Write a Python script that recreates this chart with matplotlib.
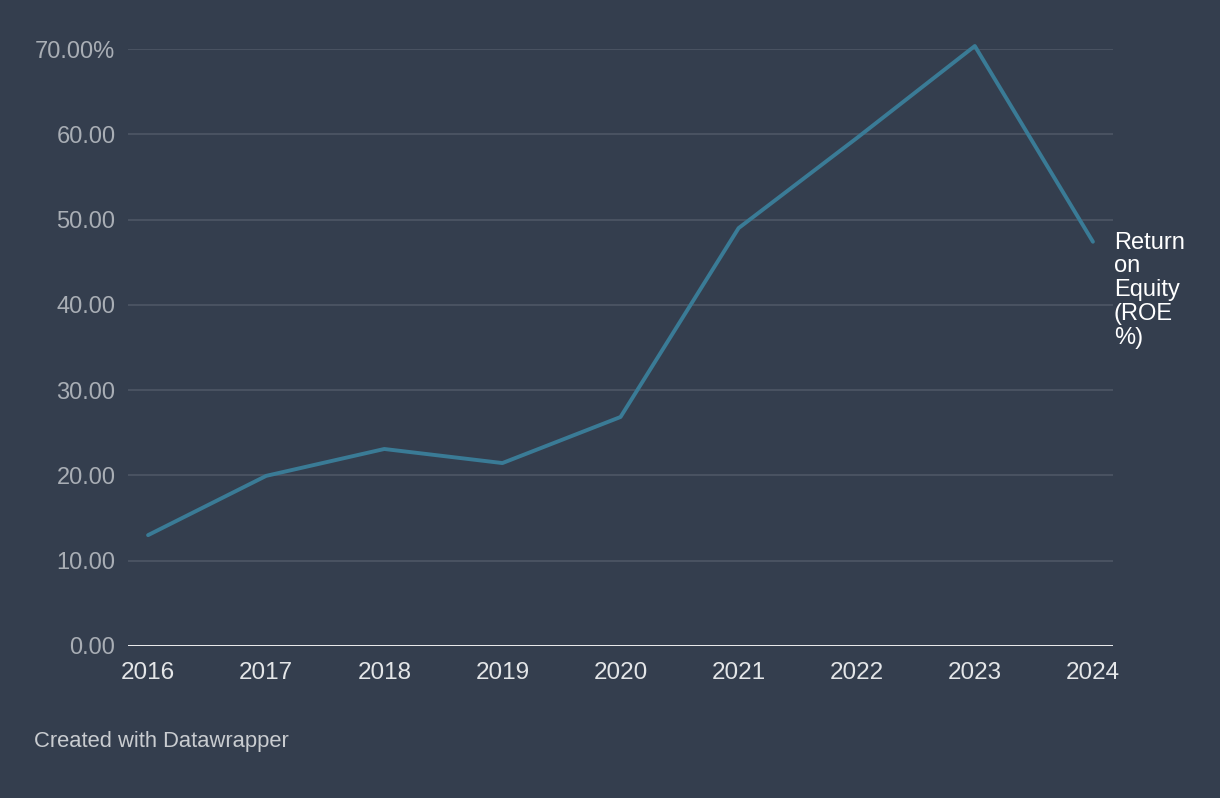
import matplotlib
matplotlib.use("Agg")
import matplotlib.pyplot as plt

years = [2016, 2017, 2018, 2019, 2020, 2021, 2022, 2023, 2024]
roe = [13.0, 19.95, 23.1, 21.45, 26.85, 49.0, 59.55, 70.35, 47.4]
yticks = [0, 10, 20, 30, 40, 50, 60, 70]
ytick_labels = ["0.00", "10.00", "20.00", "30.00", "40.00", "50.00", "60.00", "70.00%"]
series_label = "Return\non\nEquity\n(ROE\n%)"

BG = "#343e4e"
LINE = "#3a7b96"
GRID = "#4e5766"

plt.rcParams['font.family'] = ['Liberation Sans', 'DejaVu Sans']

fig = plt.figure(figsize=(12.2, 7.98), dpi=100, facecolor=BG)
ax = fig.add_axes([128/1220, 1-646/798, (1113-128)/1220, (646-49)/798])
ax.set_facecolor(BG)

ax.plot(years, roe, color=LINE, lw=2.8, clip_on=False, solid_capstyle='round', zorder=3)

ax.set_xlim(2015.83, 2024.17)
ax.set_ylim(0, 70)
ax.set_yticks(yticks)
ax.set_yticklabels(ytick_labels)
ax.set_xticks(years)
ax.set_xticklabels([str(y) for y in years])

for y in yticks[1:]:
    ax.axhline(y, color=GRID, lw=1.2, zorder=1)
ax.axhline(0, color="white", lw=2, zorder=2)

for s in ax.spines.values():
    s.set_visible(False)
ax.tick_params(axis='both', length=0)
ax.tick_params(axis='y', colors="#a9aeb5", labelsize=17, pad=9)
ax.tick_params(axis='x', colors="#e4e6e8", labelsize=17.5, pad=11.5)
for lab in ax.get_yticklabels():
    lab.set_verticalalignment('center_baseline')

ax.annotate(series_label, xy=(years[-1], roe[-1]), xycoords='data',
            xytext=(21, 10), textcoords='offset pixels',
            color="white", fontsize=17, va='top', ha='left', linespacing=1.1,
            annotation_clip=False)

fig.text(34/1220, 1-741/798, "Created with Datawrapper", color="#c9ccd0",
         fontsize=15.8, va='center', ha='left')

fig.savefig("out.png", dpi=100, facecolor=BG)
